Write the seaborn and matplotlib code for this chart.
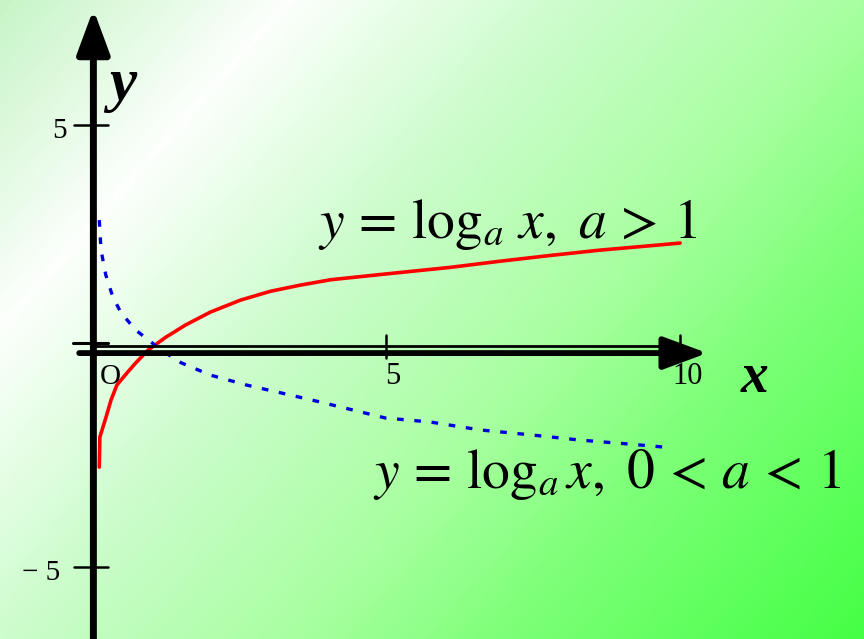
import numpy as np
import matplotlib
matplotlib.use("Agg")
import matplotlib.pyplot as plt
from matplotlib.colors import LinearSegmentedColormap
import seaborn as sns

# curve points
red_x = [0.14, 0.15, 0.25, 0.34, 0.44, 0.61, 0.76, 0.97, 1.27, 1.61, 2.03, 2.54,
         3.05, 3.56, 4.07, 5.0, 6.1, 6.95, 7.8, 8.64, 9.5, 10.0]
red_y = [-2.74, -2.06, -1.63, -1.22, -0.88, -0.61, -0.38, -0.09, 0.20, 0.48, 0.77, 1.04,
         1.24, 1.38, 1.50, 1.63, 1.78, 1.92, 2.05, 2.17, 2.27, 2.33]

blue_x = [0.14, 0.17, 0.25, 0.37, 0.51, 0.76, 0.97, 1.19, 1.53, 2.03, 2.63, 3.22,
          3.90, 5.0, 5.76, 6.61, 7.46, 8.31, 9.15, 9.75]
blue_y = [2.85, 2.17, 1.61, 1.11, 0.75, 0.36, 0.14, -0.09, -0.38, -0.66, -0.88, -1.06,
          -1.27, -1.63, -1.72, -1.90, -2.01, -2.13, -2.22, -2.29]

x_ticks = [5, 10]
x_tick_labels = ["5", "10"]
y_ticks = [5, -5]
y_tick_labels = ["5", "\u2212 5"]

label_up = r"$y\,=\,\log_a\,x,\ a\,>\,1$"
label_down = r"$y\,=\,\log_a x,\ 0\,<\,a\,<\,1$"

sns.set_style("white")
plt.rcParams["mathtext.fontset"] = "stix"
plt.rcParams["font.family"] = ["Liberation Serif", "DejaVu Serif"]
plt.rcParams["text.color"] = "black"

fig = plt.figure(figsize=(8.64, 6.39), dpi=100)
ax = fig.add_axes([0, 0, 1, 1])
xmin, xmax, ymin, ymax = -1.545, 13.12, -6.63, 7.83
ax.set_xlim(xmin, xmax)
ax.set_ylim(ymin, ymax)
ax.axis("off")

# diagonal green gradient background
cmap = LinearSegmentedColormap.from_list(
    "bg", [(0.0, (0.78, 0.96, 0.78)), (0.2, (0.99, 1.0, 0.99)),
           (0.4, (0.80, 0.99, 0.80)), (0.6, (0.66, 1.0, 0.63)),
           (0.75, (0.49, 1.0, 0.47)), (1.0, (0.27, 1.0, 0.27))])
gx, gy = np.meshgrid(np.linspace(0, 864, 220), np.linspace(0, 639, 160))
t = (gx + 0.88 * gy) / (864 + 0.88 * 639)
ax.imshow(t, cmap=cmap, extent=(xmin, xmax, ymin, ymax), aspect="auto",
          origin="upper", zorder=0, vmin=0, vmax=1)

# curves
sns.lineplot(x=red_x, y=red_y, color="#ff0000", lw=2.6, ax=ax, estimator=None,
             sort=False, zorder=4)
sns.lineplot(x=blue_x, y=blue_y, color="#0000dd", lw=2.4, ax=ax, estimator=None,
             sort=False, zorder=4, linestyle=(0, (2, 3.2)))

# axes with arrows
arrow = dict(arrowstyle="-|>,head_length=27,head_width=10", color="black",
             shrinkA=0, shrinkB=0, mutation_scale=1)
ax.annotate("", xy=(0.04, 7.62), xytext=(0.04, ymin),
            arrowprops=dict(arrow, lw=5), zorder=5)
ax.annotate("", xy=(10.46, -0.16), xytext=(-0.2, -0.16),
            arrowprops=dict(arrow, lw=4.2), zorder=5)
ax.plot([0, 10.0], [0, 0], color="black", lw=2, zorder=5)
ax.plot([-0.31, 0.29], [0.06, 0.06], color="black", lw=2.2, zorder=5)

for yt in y_ticks:
    ax.plot([-0.29, 0.29], [yt, yt], color="black", lw=1.8, zorder=5)
for xt in x_ticks:
    ax.plot([xt, xt], [0.25, -0.27], color="black", lw=1.8, zorder=5)

# tick labels
ax.text(-0.54, 4.86, y_tick_labels[0], fontsize=21, ha="center", va="center", zorder=6)
ax.text(-0.85, -5.14, y_tick_labels[1], fontsize=21, ha="center", va="center", zorder=6)
ax.text(0.32, -0.70, "O", fontsize=21, ha="center", va="center", zorder=6)
for xt, lab in zip(x_ticks, x_tick_labels):
    ax.text(xt + 0.12, -0.70, lab, fontsize=22, ha="center", va="center", zorder=6)

# axis names
ax.text(0.54, 5.9, "y", fontsize=44, style="italic", weight="bold",
        ha="center", va="center", zorder=6)
ax.text(11.27, -0.72, "x", fontsize=40, style="italic", weight="bold",
        ha="center", va="center", zorder=6)

# formulas
ax.text(3.85, 2.44, label_up, fontsize=40, ha="left", va="baseline", zorder=6)
ax.text(4.79, -3.21, label_down, fontsize=40, ha="left", va="baseline", zorder=6)

fig.savefig("out.png", dpi=100)
